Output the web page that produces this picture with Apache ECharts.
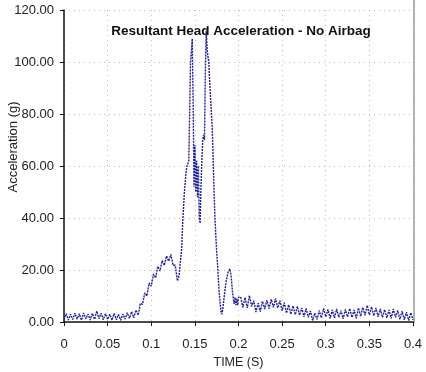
<!DOCTYPE html>
<html>
<head>
<meta charset="utf-8">
<script src="https://cdn.jsdelivr.net/npm/echarts@6/dist/echarts.min.js"></script>
<style>html,body{margin:0;padding:0;background:#fff}#c{width:426px;height:372px}</style>
</head>
<body>
<div id="c"></div>
<script>
const titleText = "Resultant Head Acceleration - No Airbag";
const xName = "TIME (S)";
const yName = "Acceleration (g)";

// pre-impact and first hump (0 - 0.13 s)
const time1 = [0,0.0025,0.005,0.0075,0.01,0.0125,0.015,0.0175,0.02,0.0225,0.025,0.0275,0.03,0.0325,0.035,0.0375,0.04,0.0425,0.045,0.0475,0.05,0.0525,0.055,0.0575,0.06,0.0625,0.065,0.0675,0.07,0.0725,0.075,0.0775,0.08,0.0825,0.085,0.0875,0.09,0.0925,0.095,0.0975,0.1,0.1025,0.105,0.1075,0.11,0.1125,0.115,0.1175,0.12,0.1225,0.125,0.1275,0.13];
const accel1 = [0.9,3.2,0.8,3.0,1.0,3.4,1.1,3.2,0.7,3.5,1.2,3.1,0.8,3.3,1.0,4.2,1.3,3.4,0.9,3.2,1.0,3.0,0.7,3.3,0.9,2.9,0.7,3.1,1.1,3.6,1.4,4.0,1.6,4.6,2.6,7.2,6.8,11.2,10.0,15.0,13.8,18.4,17.0,21.4,19.6,23.6,21.8,25.4,23.4,26.0,21.8,21.8,15.8];

// main impact (0.131 - 0.2 s)
const time2 = [0.131,0.132,0.133,0.134,0.135,0.136,0.137,0.138,0.139,0.140,0.141,0.142,0.143,0.144,0.145,0.146,0.147,0.148,0.149,0.150,0.151,0.152,0.153,0.154,0.155,0.156,0.157,0.158,0.159,0.160,0.161,0.162,0.163,0.164,0.165,0.166,0.167,0.168,0.169,0.170,0.171,0.172,0.173,0.174,0.175,0.176,0.177,0.178,0.179,0.180,0.181,0.182,0.183,0.184,0.185,0.186,0.187,0.188,0.189,0.190,0.191,0.192,0.193,0.194,0.195,0.196,0.197,0.198,0.199,0.200];
const accel2 = [15.5,18.0,22.0,25.0,29.0,38.0,44.0,50.0,54.0,58.0,60.0,61.0,62.0,80.0,100.0,104.0,109.0,85.0,52.0,68.0,50.0,62.0,48.0,60.0,40.0,38.0,52.0,62.0,70.0,72.0,70.0,96.0,112.0,105.0,102.0,100.0,92.0,86.0,80.0,74.0,62.0,50.0,40.0,33.0,27.0,22.0,16.0,11.0,7.0,4.0,3.0,5.0,8.0,11.0,13.5,16.0,17.5,19.0,19.5,20.5,19.0,16.0,12.0,9.0,7.0,9.5,6.5,9.0,6.5,9.5];

// tail (0.2025 - 0.4 s)
const time3 = [0.2025,0.205,0.2075,0.21,0.2125,0.215,0.2175,0.22,0.2225,0.225,0.2275,0.23,0.2325,0.235,0.2375,0.24,0.2425,0.245,0.2475,0.25,0.2525,0.255,0.2575,0.26,0.2625,0.265,0.2675,0.27,0.2725,0.275,0.2775,0.28,0.2825,0.285,0.2875,0.29,0.2925,0.295,0.2975,0.3,0.3025,0.305,0.3075,0.31,0.3125,0.315,0.3175,0.32,0.3225,0.325,0.3275,0.33,0.3325,0.335,0.3375,0.34,0.3425,0.345,0.3475,0.35,0.3525,0.355,0.3575,0.36,0.3625,0.365,0.3675,0.37,0.3725,0.375,0.3775,0.38,0.3825,0.385,0.3875,0.39,0.3925,0.395,0.3975,0.4];
const accel3 = [9.6,5.6,9.4,5.4,10.2,6.0,8.2,3.8,7.2,4.0,8.0,5.0,8.4,5.2,8.8,5.6,9.0,5.4,8.2,4.4,7.4,3.4,6.6,3.0,6.2,2.8,6.0,2.6,5.4,2.0,5.2,1.8,4.2,0.6,3.4,1.0,4.4,1.6,5.2,2.0,4.8,1.4,4.6,1.6,5.0,1.8,4.4,1.2,4.8,2.0,5.2,1.8,4.6,1.4,5.4,2.2,5.6,2.6,6.4,2.8,5.8,2.4,5.4,2.0,5.0,1.8,4.8,1.6,4.6,1.4,5.0,1.8,4.4,1.0,4.2,0.8,3.8,0.6,3.6,0.8];

const xMin = 0, xMax = 0.4, xStep = 0.05;
const yMin = 0, yMax = 120, yStep = 20;

const times = time1.concat(time2, time3);
const accels = accel1.concat(accel2, accel3);
const seriesData = times.map((t, i) => [t, accels[i]]);

const chart = echarts.init(document.getElementById('c'), null, {renderer: 'canvas'});
const font = '"Liberation Sans", Arial, sans-serif';
chart.setOption({
  animation: false,
  backgroundColor: '#fff',
  title: {
    text: titleText,
    left: 236, top: 19, textAlign: 'center',
    textStyle: {fontFamily: font, fontSize: 13.5, fontWeight: 'bold', color: '#111'}
  },
  grid: {left: 64, right: 13, top: 10, bottom: 50, containLabel: false, outerBoundsMode: 'none'},
  xAxis: {
    type: 'value', min: xMin, max: xMax, interval: xStep,
    name: xName, nameLocation: 'middle', nameGap: 31,
    nameTextStyle: {fontFamily: '"Liberation Sans Narrow", "Liberation Sans", sans-serif', fontSize: 12.5, color: '#222'},
    axisLine: {lineStyle: {color: '#111', width: 1.5}},
    axisTick: {show: true, length: 4, lineStyle: {color: '#111'}},
    axisLabel: {fontFamily: font, fontSize: 13, color: '#222', margin: 16},
    splitLine: {show: true, lineStyle: {color: '#bdbdbd', type: [1, 4], width: 1}}
  },
  yAxis: {
    type: 'value', min: yMin, max: yMax, interval: yStep,
    axisLine: {show: true, lineStyle: {color: '#111', width: 1.5}},
    axisTick: {show: true, length: 4, lineStyle: {color: '#111'}},
    axisLabel: {fontFamily: font, fontSize: 13, color: '#222', margin: 10,
      formatter: v => v.toFixed(2)},
    splitLine: {show: true, lineStyle: {color: '#bdbdbd', type: [1, 4], width: 1}}
  },
  graphic: [{
    type: 'line', shape: {x1: 414, y1: 0, x2: 414, y2: 323},
    style: {stroke: '#b0b0b0', lineWidth: 2}
  }, {
    type: 'text', x: 13, y: 147, rotation: Math.PI / 2,
    style: {text: yName, fontFamily: font, fontSize: 13, fill: '#222',
      align: 'center', verticalAlign: 'middle'}
  }],
  series: [{
    type: 'line', data: seriesData, showSymbol: false,
    lineStyle: {color: '#1f1f96', width: 1.4, type: [2, 1]},
    clip: false
  }]
});
</script>
</body>
</html>
